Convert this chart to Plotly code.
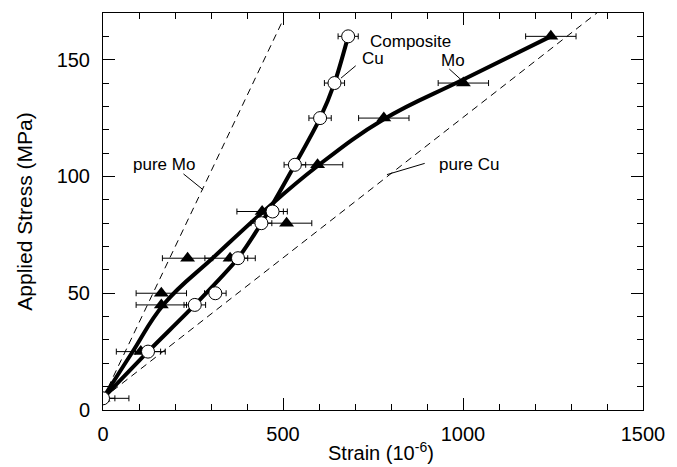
import plotly.graph_objects as go

# Measured points: composite Cu phase (open circles)
cu_strain = [0, 125, 255, 312, 375, 440, 471, 533, 603, 643, 681]
cu_stress = [5, 25, 45, 50, 65, 80, 85, 105, 125, 140, 160]
cu_err = [33, 35, 30, 30, 27, 29, 30, 30, 31, 28, 28]

# Measured points: composite Mo phase (filled triangles)
mo_strain = [0, 105, 162, 162, 235, 353, 442, 510, 596, 780, 1001, 1244]
mo_stress = [5, 25, 45, 50, 65, 65, 85, 80, 105, 125, 140, 160]
mo_err = [72, 68, 70, 70, 70, 70, 70, 70, 70, 70, 70, 70]

# Smooth trend curves through each phase
cu_fit_strain = [0, 125, 255, 375, 440, 533, 603, 643, 681]
cu_fit_stress = [5, 25, 45, 65, 80, 105, 125, 140, 160]
mo_fit_strain = [0, 80, 170, 308, 442, 596, 780, 1001, 1244]
mo_fit_stress = [5, 24.4, 45.5, 65.5, 84.5, 104.5, 124.5, 141.5, 160]

# Elastic response of the pure metals
pure_mo_strain = [0, 500]
pure_mo_stress = [5, 167]
pure_cu_strain = [0, 1400]
pure_cu_stress = [5, 173.4]

x_ticks = [0, 500, 1000, 1500]
y_ticks = [0, 50, 100, 150]

FONT = "Liberation Sans, Arial, sans-serif"

fig = go.Figure()

fig.add_trace(go.Scatter(x=pure_mo_strain, y=pure_mo_stress, mode="lines",
                         line=dict(color="black", width=1, dash="7px,5px")))
fig.add_trace(go.Scatter(x=pure_cu_strain, y=pure_cu_stress, mode="lines",
                         line=dict(color="black", width=1, dash="7px,5px")))
fig.add_trace(go.Scatter(x=mo_fit_strain, y=mo_fit_stress, mode="lines",
                         line=dict(color="black", width=4, shape="spline", smoothing=1.2)))
fig.add_trace(go.Scatter(x=cu_fit_strain, y=cu_fit_stress, mode="lines",
                         line=dict(color="black", width=4, shape="spline", smoothing=0.8)))

fig.add_trace(go.Scatter(
    x=mo_strain, y=mo_stress, mode="markers",
    marker=dict(symbol="triangle-up", size=13, color="black"),
    error_x=dict(type="data", array=mo_err, color="black", thickness=1, width=3),
))
fig.add_trace(go.Scatter(
    x=cu_strain, y=cu_stress, mode="markers",
    marker=dict(symbol="circle", size=13, color="white",
                line=dict(color="black", width=1)),
    error_x=dict(type="data", array=cu_err, color="black", thickness=1, width=3),
))

# Pointer lines for the labels
pointers = [
    (223.5, 101.1, 278, 94.3),
    (893.6, 105.6, 788.8, 100.8),
    (702, 147.4, 661, 142.1),
    (962, 146, 995.6, 141.3),
]
for x0, y0, x1, y1 in pointers:
    fig.add_shape(type="line", x0=x0, y0=y0, x1=x1, y1=y1,
                  line=dict(color="black", width=1))

labels = [
    ("Composite", 737, 158),
    ("Cu", 713, 150.4),
    ("Mo", 934.6, 149.5),
    ("pure Mo", 77.7, 105.3),
    ("pure Cu", 929, 105.3),
]
for text, x, y in labels:
    fig.add_annotation(x=x, y=y, text=text, showarrow=False,
                       xanchor="left", yanchor="middle",
                       font=dict(family=FONT, size=17, color="black"))

# x-axis title, placed just right of the plot centre
fig.add_annotation(xref="paper", yref="paper", x=0.515, y=-0.105,
                   text="Strain (10<sup>-6</sup>)", showarrow=False,
                   xanchor="center", yanchor="middle",
                   font=dict(family=FONT, size=20, color="black"))

axis_common = dict(
    showline=True, linecolor="black", linewidth=1, mirror="ticks",
    ticks="inside", ticklen=12, tickwidth=1, tickcolor="black",
    showgrid=False, zeroline=False,
    tickfont=dict(family=FONT, size=20, color="black"),
)

fig.update_xaxes(
    range=[0, 1500], tickvals=x_ticks, ticktext=[str(v) for v in x_ticks],
    minor=dict(dtick=100, ticks="inside", ticklen=6, tickcolor="black", showgrid=False),
    ticklabelstandoff=6,
    **axis_common,
)
fig.update_yaxes(
    range=[0, 170], tickvals=y_ticks, ticktext=[str(v) for v in y_ticks],
    minor=dict(dtick=10, ticks="inside", ticklen=6, tickcolor="black", showgrid=False),
    title=dict(text="Applied Stress (MPa)", font=dict(family=FONT, size=21, color="black"),
               standoff=18),
    ticklabelstandoff=8,
    **axis_common,
)

fig.update_layout(
    width=677, height=467,
    margin=dict(l=103, r=25, t=12, b=57),
    paper_bgcolor="white", plot_bgcolor="white",
    showlegend=False,
)

fig.write_html("out.html")
